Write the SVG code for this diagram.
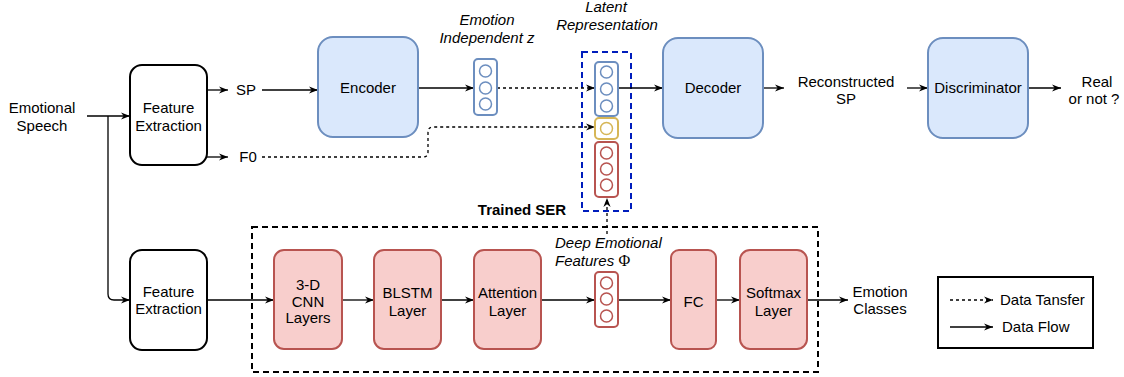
<svg xmlns="http://www.w3.org/2000/svg" width="1124" height="377" viewBox="0 0 1124 377">
<defs>
<marker id="arr" viewBox="0 0 10 10" refX="10" refY="5" markerWidth="9" markerHeight="9" markerUnits="userSpaceOnUse" orient="auto">
<path d="M0,1 L10,5 L0,9 L3,5 z" fill="#000"/>
</marker>
<style>
text{font-family:"Liberation Sans",Arial,sans-serif;font-size:15px;fill:#000;}
.c{text-anchor:middle;}
.it{font-style:italic;}
.b{font-weight:bold;}
.plain{fill:#fff;stroke:#000;stroke-width:2;}
.blue{fill:#dae8fc;stroke:#6c8ebf;stroke-width:2;}
.red{fill:#f8cecc;stroke:#b85450;stroke-width:2;}
.vb{fill:#fff;stroke:#6c8ebf;stroke-width:2;}
.vr{fill:#fff;stroke:#b85450;stroke-width:2;}
.vy{fill:#fff;stroke:#d6b656;stroke-width:2;}
.cb{fill:none;stroke:#6c8ebf;stroke-width:1.5;}
.cr{fill:none;stroke:#b85450;stroke-width:1.5;}
.cy{fill:none;stroke:#d6b656;stroke-width:1.5;}
.ln{fill:none;stroke:#000;stroke-width:1.3;}
.dot{fill:none;stroke:#000;stroke-width:1.3;stroke-dasharray:3 3;}
</style>
</defs>

<g id="containers">
<rect x="252" y="227" width="566" height="145" fill="none" stroke="#000" stroke-width="2" stroke-dasharray="6 4"/>
<text class="b" x="522" y="215" text-anchor="middle">Trained SER</text>
<rect x="582" y="52" width="49" height="159" fill="none" stroke="#001DBC" stroke-width="2" stroke-dasharray="6 4"/>
</g>

<g id="connectors">
<path class="ln" d="M87,116 H130" marker-end="url(#arr)"/>
<path class="ln" d="M108,116 V294 Q108,300 114,300 H130" marker-end="url(#arr)"/>
<path class="ln" d="M207,90 H228" marker-end="url(#arr)"/>
<path class="ln" d="M262,90 H318" marker-end="url(#arr)"/>
<path class="ln" d="M207,157 H228" marker-end="url(#arr)"/>
<path class="dot" d="M262,157 H423 Q428,157 428,152 V132 Q428,127 433,127 H595" marker-end="url(#arr)"/>
<path class="ln" d="M418,88 H474" marker-end="url(#arr)"/>
<path class="dot" d="M497,88 H595" marker-end="url(#arr)"/>
<path class="ln" d="M618,88 H663" marker-end="url(#arr)"/>
<path class="ln" d="M763,88 H784" marker-end="url(#arr)"/>
<path class="ln" d="M907,88 H928" marker-end="url(#arr)"/>
<path class="ln" d="M1028,88 H1061" marker-end="url(#arr)"/>
<path class="ln" d="M207,300 H274" marker-end="url(#arr)"/>
<path class="ln" d="M342,300 H374" marker-end="url(#arr)"/>
<path class="ln" d="M441,300 H474" marker-end="url(#arr)"/>
<path class="ln" d="M541,300 H595" marker-end="url(#arr)"/>
<path class="ln" d="M618,300 H671" marker-end="url(#arr)"/>
<path class="ln" d="M716,300 H740" marker-end="url(#arr)"/>
<path class="ln" d="M807,300 H848" marker-end="url(#arr)"/>
<path class="dot" d="M607,234 V198" marker-end="url(#arr)"/>
</g>

<g id="input-label">
<text class="c" x="42" y="113">Emotional</text>
<text class="c" x="42" y="131">Speech</text>
</g>

<g id="fe-top">
<rect class="plain" x="130" y="65" width="77" height="100" rx="12"/>
<text class="c" x="168.5" y="113">Feature</text>
<text class="c" x="168.5" y="131">Extraction</text>
</g>

<g id="sp-label"><text class="c" x="246" y="95">SP</text></g>
<g id="f0-label"><text class="c" x="248" y="162">F0</text></g>

<g id="encoder">
<rect class="blue" x="318" y="37" width="100" height="100" rx="15"/>
<text class="c" x="368" y="93">Encoder</text>
</g>

<g id="z-vector">
<rect class="vb" x="474" y="59" width="23" height="56" rx="4"/>
<circle class="cb" cx="485.5" cy="71" r="6"/>
<circle class="cb" cx="485.5" cy="88" r="6"/>
<circle class="cb" cx="485.5" cy="104" r="6"/>
<text class="c it" x="487" y="25">Emotion</text>
<text class="c it" x="487" y="43">Independent z</text>
</g>

<g id="latent">
<text class="c it" x="606" y="12">Latent</text>
<text class="c it" x="607" y="30">Representation</text>
<rect class="vb" x="595" y="62" width="23" height="54" rx="4"/>
<circle class="cb" cx="606.5" cy="72" r="6"/>
<circle class="cb" cx="606.5" cy="89" r="6"/>
<circle class="cb" cx="606.5" cy="106" r="6"/>
<rect class="vy" x="595" y="118" width="23" height="21" rx="4"/>
<circle class="cy" cx="606.5" cy="128.5" r="6"/>
<rect class="vr" x="595" y="142" width="23" height="55" rx="4"/>
<circle class="cr" cx="606.5" cy="153" r="6"/>
<circle class="cr" cx="606.5" cy="169" r="6"/>
<circle class="cr" cx="606.5" cy="185" r="6"/>
</g>

<g id="decoder">
<rect class="blue" x="663" y="38" width="100" height="100" rx="15"/>
<text class="c" x="713" y="93">Decoder</text>
</g>

<g id="recon-label">
<text class="c" x="846" y="87">Reconstructed</text>
<text class="c" x="846" y="104">SP</text>
</g>

<g id="discriminator">
<rect class="blue" x="928" y="38" width="100" height="100" rx="15"/>
<text class="c" x="978" y="93">Discriminator</text>
</g>

<g id="real-label">
<text class="c" x="1097" y="87">Real</text>
<text class="c" x="1094" y="104">or not ?</text>
</g>

<g id="fe-bottom">
<rect class="plain" x="130" y="250" width="77" height="100" rx="12"/>
<text class="c" x="168.5" y="297">Feature</text>
<text class="c" x="168.5" y="314">Extraction</text>
</g>

<g id="cnn">
<rect class="red" x="274" y="250" width="68" height="99" rx="10"/>
<text class="c" x="308" y="290">3-D</text>
<text class="c" x="308" y="307">CNN</text>
<text class="c" x="308" y="323">Layers</text>
</g>

<g id="blstm">
<rect class="red" x="374" y="250" width="67" height="99" rx="10"/>
<text class="c" x="407.5" y="298">BLSTM</text>
<text class="c" x="407.5" y="316">Layer</text>
</g>

<g id="attention">
<rect class="red" x="474" y="250" width="67" height="99" rx="10"/>
<text class="c" x="507.5" y="298">Attention</text>
<text class="c" x="507.5" y="316">Layer</text>
</g>

<g id="deep-features">
<rect x="553" y="235" width="112" height="34" fill="#fff"/>
<text class="it" x="555" y="248">Deep Emotional</text>
<text x="555" y="266"><tspan class="it">Features </tspan><tspan style="font-family:'Liberation Serif','Times New Roman',serif;font-size:16px">Φ</tspan></text>
<rect class="vr" x="595" y="272" width="23" height="55" rx="4"/>
<circle class="cr" cx="606.5" cy="283" r="6"/>
<circle class="cr" cx="606.5" cy="299" r="6"/>
<circle class="cr" cx="606.5" cy="316" r="6"/>
</g>

<g id="fc">
<rect class="red" x="671" y="250" width="45" height="99" rx="8"/>
<text class="c" x="693.5" y="307">FC</text>
</g>

<g id="softmax">
<rect class="red" x="740" y="250" width="67" height="99" rx="10"/>
<text class="c" x="773.5" y="298">Softmax</text>
<text class="c" x="773.5" y="316">Layer</text>
</g>

<g id="emotion-classes">
<text class="c" x="880" y="297">Emotion</text>
<text class="c" x="880" y="314">Classes</text>
</g>

<g id="legend">
<rect x="938" y="277" width="155" height="71" fill="#fff" stroke="#000" stroke-width="2"/>
<path class="dot" d="M950,300 H993" marker-end="url(#arr)"/>
<text x="1000" y="305">Data Tansfer</text>
<path class="ln" d="M950,327 H993" marker-end="url(#arr)"/>
<text x="1002" y="332">Data Flow</text>
</g>
</svg>
